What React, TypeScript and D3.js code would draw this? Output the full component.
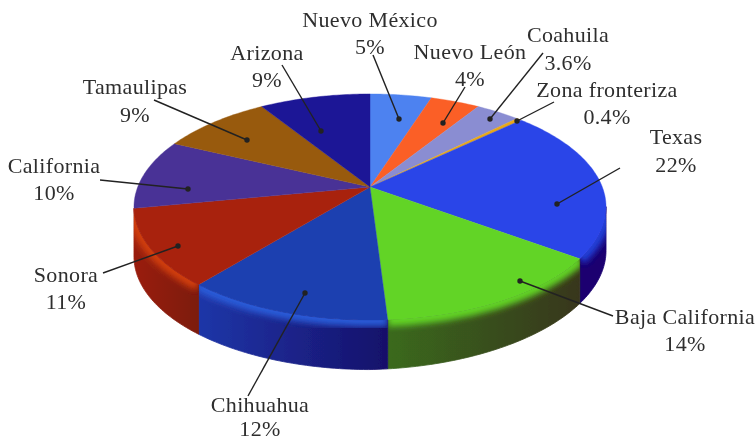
import React from "react";
import * as d3 from "d3";

const categories = ["Nuevo México", "Nuevo León", "Coahuila", "Zona fronteriza", "Texas", "Baja California", "Chihuahua", "Sonora", "California", "Tamaulipas", "Arizona"];
const shares = [5, 4, 3.6, 0.4, 22, 14, 12, 11, 10, 9, 9];
const shareLabels = ["5%", "4%", "3.6%", "0.4%", "22%", "14%", "12%", "11%", "10%", "9%", "9%"];
const topColors = ["#4d82f0", "#fb5f28", "#8a8dd2", "#e8a818", "#2b45e8", "#62d428", "#1d40b0", "#a82310", "#4a3396", "#985a10", "#1c1496"];
const rimColors = ["#4d82f0", "#fb5f28", "#8a8dd2", "#e8a818", "#2440d8", "#62d428", "#2a5cd8", "#d03c10", "#4a3396", "#985a10", "#1c1496"];
const wallLeft = ["#333", "#333", "#333", "#333", "#1a0070", "#3a6a1e", "#1f36a8", "#9a1e0e", "#333", "#333", "#333"];
const wallRight = ["#333", "#333", "#333", "#333", "#1a0070", "#38361a", "#16106a", "#7c1a0c", "#333", "#333", "#333"];

// label centre x, name baseline, share baseline, leader start x/y, dot x/y
const labelX = [370, 470, 568, 607, 676, 685, 260, 66, 54, 135, 267];
const nameY = [27, 59, 42, 97, 144, 324, 412, 282, 173, 94, 60];
const valueY = [54, 86, 70, 124, 172, 351, 436, 309, 200, 122, 87];
const leaderFrom = [[373, 55], [465, 87], [543, 53], [554, 102], [620, 168], [613, 316], [248, 396], [103, 273], [100, 180], [154, 100], [282, 65]];
const leaderTo = [[399, 119], [443, 123], [490, 119], [517, 121], [557, 204], [520, 281], [305, 293], [178, 246], [188, 189], [247, 140], [321, 131]];

const W = 755, H = 441;
const CX = 370, CY = 187, A = 232.3, B = 109.5, P = 0.177, RAD = Math.PI / 180;
const project = (t: number, dy = 0): [number, number] => {
  const u = Math.sin(t), v = -Math.cos(t), w = 1 - P * v;
  return [CX + (A * u) / w, CY + (B * v) / w + dy];
};
const depth = (t: number) => 49.5 - Math.max(0, Math.sin(t)) * 6;
const samples = (a: number, b: number) => {
  const n = Math.max(2, Math.ceil((b - a) / (1 * RAD)));
  return d3.range(n + 1).map((i) => a + ((b - a) * i) / n);
};
const line = d3.line<[number, number]>();
const arcs = d3.pie<number>().sort(null).value((d) => d)(shares);
const WALL_FROM = 100 * RAD, WALL_TO = 259.2 * RAD;
const FONT = "'Liberation Serif', serif";

export default function App() {
  return (
    <svg width={W} height={H} viewBox={`0 0 ${W} ${H}`} style={{ position: "absolute", left: 0, top: 0, background: "#fff" }}>
      <defs>
        <filter id="soft" x="-20%" y="-20%" width="140%" height="140%"><feGaussianBlur stdDeviation="3" /></filter>
        <filter id="edge" x="-5%" y="-5%" width="110%" height="110%"><feGaussianBlur stdDeviation="0.5" /></filter>
        {arcs.map((a, i) => {
          const s = Math.max(a.startAngle, WALL_FROM), e = Math.min(a.endAngle, WALL_TO);
          if (e <= s) return null;
          const ts = samples(s, e);
          const wall = [...ts.map((t) => project(t)), ...ts.slice().reverse().map((t) => project(t, depth(t)))];
          const xs = wall.map((p) => p[0]);
          return (
            <React.Fragment key={i}>
              <clipPath id={`wall-${i}`}><path d={line(wall) + "Z"} /></clipPath>
              <linearGradient id={`grad-${i}`} gradientUnits="userSpaceOnUse" x1={d3.min(xs)} x2={d3.max(xs)} y1={0} y2={0}>
                <stop offset="0" stopColor={wallLeft[i]} />
                <stop offset="1" stopColor={wallRight[i]} />
              </linearGradient>
            </React.Fragment>
          );
        })}
      </defs>
      <g filter="url(#edge)">
        {arcs.map((a, i) => {
          const s = Math.max(a.startAngle, WALL_FROM), e = Math.min(a.endAngle, WALL_TO);
          if (e <= s) return null;
          const ts = samples(s, e);
          const wall = [...ts.map((t) => project(t)), ...ts.slice().reverse().map((t) => project(t, depth(t)))];
          return (
            <g key={i}>
              <path d={line(wall) + "Z"} fill={`url(#grad-${i})`} stroke={`url(#grad-${i})`} strokeWidth={0.8} />
              <g clipPath={`url(#wall-${i})`}>
                <path d={line(ts.map((t) => project(t))) ?? ""} fill="none" stroke={rimColors[i]} strokeWidth={13} filter="url(#soft)" />
              </g>
            </g>
          );
        })}
        {arcs.map((a, i) => {
          const pts = [[CX, CY] as [number, number], ...samples(a.startAngle, a.endAngle).map((t) => project(t))];
          return <path key={i} d={line(pts) + "Z"} fill={topColors[i]} stroke={topColors[i]} strokeWidth={0.4} />;
        })}
      </g>
      {categories.map((c, i) => (
        <g key={c}>
          <line x1={leaderFrom[i][0]} y1={leaderFrom[i][1]} x2={leaderTo[i][0]} y2={leaderTo[i][1]} stroke="#222" strokeWidth={1.4} />
          <circle cx={leaderTo[i][0]} cy={leaderTo[i][1]} r={2.7} fill="#222" />
          <text x={labelX[i]} y={nameY[i]} textAnchor="middle" fontFamily={FONT} fontSize={22} letterSpacing={0.35} fill="#2e2e2e">{c}</text>
          <text x={labelX[i]} y={valueY[i]} textAnchor="middle" fontFamily={FONT} fontSize={22} letterSpacing={0.35} fill="#2e2e2e">{shareLabels[i]}</text>
        </g>
      ))}
    </svg>
  );
}
